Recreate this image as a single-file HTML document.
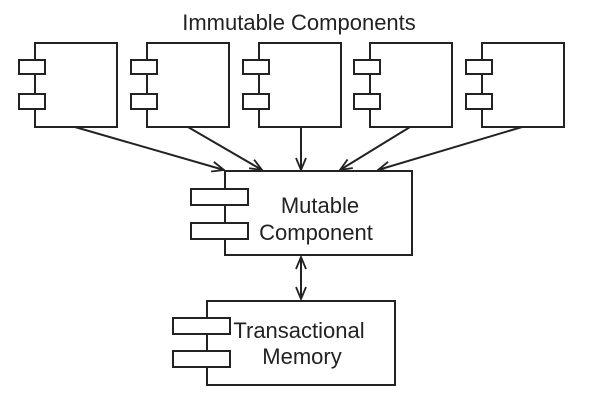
<!DOCTYPE html>
<html><head><style>body{margin:0;background:#fff}svg{display:block}</style></head><body>
<svg width="600" height="400" xmlns="http://www.w3.org/2000/svg" font-family="Liberation Sans, sans-serif" fill="none" stroke="#222" stroke-width="2">
<defs><marker id="a" markerWidth="14" markerHeight="12" refX="13" refY="6" orient="auto" markerUnits="userSpaceOnUse"><path d="M1,1 L13,6 L1,11" fill="none" stroke="#222" stroke-width="1.8"/></marker>
<marker id="b" markerWidth="14" markerHeight="12" refX="1" refY="6" orient="auto" markerUnits="userSpaceOnUse"><path d="M13,1 L1,6 L13,11" fill="none" stroke="#222" stroke-width="1.8"/></marker></defs>
<text x="299" y="30" font-size="22" fill="#222" stroke="none" text-anchor="middle">Immutable  Components</text>
<g id="c">
<rect x="35" y="43" width="82" height="84" fill="#fff"/>
<rect x="19" y="60" width="26" height="14" fill="#fff"/>
<rect x="19" y="94" width="26" height="15" fill="#fff"/>
</g>
<use href="#c" x="112"/><use href="#c" x="224"/><use href="#c" x="335"/><use href="#c" x="447"/>
<line x1="75" y1="127" x2="224" y2="170" marker-end="url(#a)"/>
<line x1="188" y1="127" x2="262" y2="170" marker-end="url(#a)"/>
<line x1="301" y1="127" x2="301" y2="170" marker-end="url(#a)"/>
<line x1="410" y1="127" x2="340" y2="170" marker-end="url(#a)"/>
<line x1="522" y1="127" x2="378" y2="170" marker-end="url(#a)"/>
<rect x="225" y="171" width="187" height="84" fill="#fff"/>
<rect x="191" y="189" width="57" height="16" fill="#fff"/>
<rect x="191" y="223" width="57" height="16" fill="#fff"/>
<text x="320" y="213" font-size="22" fill="#222" stroke="none" text-anchor="middle">Mutable</text>
<text x="316" y="240" font-size="22" fill="#222" stroke="none" text-anchor="middle">Component</text>
<line x1="301" y1="257" x2="301" y2="299" marker-end="url(#a)" marker-start="url(#b)"/>
<rect x="207" y="301" width="188" height="84" fill="#fff"/>
<rect x="173" y="318" width="57" height="16" fill="#fff"/>
<rect x="173" y="351" width="57" height="16" fill="#fff"/>
<text x="299" y="338" font-size="22" fill="#222" stroke="none" text-anchor="middle">Transactional</text>
<text x="302" y="364" font-size="22" fill="#222" stroke="none" text-anchor="middle">Memory</text>
</svg>
</body></html>
